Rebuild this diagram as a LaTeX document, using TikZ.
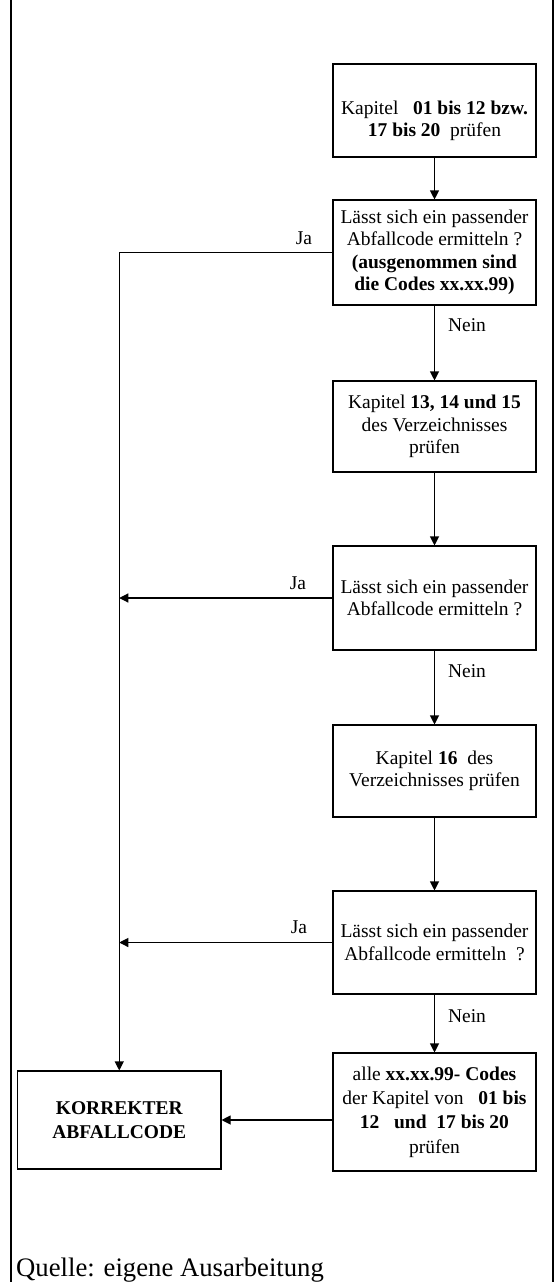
\documentclass[tikz,border=0pt]{standalone}
\usepackage{fontspec}
\setmainfont{Liberation Serif}
\usetikzlibrary{arrows.meta}
\tikzset{
  x=1pt, y=-1pt,
  box/.style={draw, line width=1.1pt, minimum width=203pt, inner sep=0pt, align=center,
    font=\fontsize{19.5}{22.4}\selectfont},
  txt/.style={inner sep=0pt, align=center, font=\fontsize{19.5}{22.4}\selectfont},
  lbl/.style={inner sep=0pt, font=\fontsize{19.5}{22.4}\selectfont},
  arr/.style={line width=1.1pt, -{Triangle[length=9pt,width=9pt]}},
  frame/.style={line width=2.4pt}
}
\begin{document}
\begin{tikzpicture}
\useasboundingbox (0,0) rectangle (557,1282);
% frame
\coordinate (fl1) at (11,0); \coordinate (fl2) at (11,1282);
\coordinate (fr1) at (553,0); \coordinate (fr2) at (553,1282);
\draw[frame] (fl1) -- (fl2);
\draw[frame] (fr1) -- (fr2);

% boxes
\node[box, minimum height=93pt] (b1) at (434.5,110.5) {};
\node[txt] (t1) at (434.5,121) {Kapitel\ \ \ \textbf{01 bis 12 bzw.}\\\textbf{17 bis 20}\ \ prüfen};
\node[box, minimum height=105pt] (b2) at (434.5,252.5) {Lässt sich ein passender\\Abfallcode ermitteln ?\\\textbf{(ausgenommen sind}\\\textbf{die Codes xx.xx.99)}};
\node[box, minimum height=91pt] (b3) at (434.5,426.5) {Kapitel \textbf{13, 14 und 15}\\des Verzeichnisses\\prüfen};
\node[box, minimum height=104pt] (b4) at (434.5,598) {Lässt sich ein passender\\Abfallcode ermitteln ?};
\node[box, minimum height=92pt] (b5) at (434.5,771) {Kapitel \textbf{16}\ \ des\\Verzeichnisses prüfen};
\node[box, minimum height=103pt] (b6) at (434.5,942.5) {Lässt sich ein passender\\Abfallcode ermitteln\ \ ?};
\node[box, minimum height=118pt, font=\fontsize{19.5}{24.3}\selectfont] (b7) at (434.5,1112) {alle \textbf{xx.xx.99- Codes}\\der Kapitel von\ \ \ \textbf{01 bis}\\\textbf{12\ \ \ und\ \ 17 bis 20}\\prüfen};
\node[box, minimum height=98pt, minimum width=203.5pt, font=\fontsize{19.5}{24}\selectfont\bfseries] (k) at (119.25,1120) {KORREKTER\\ABFALLCODE};

% vertical flow
\draw[arr] (b1.south) -- (b2.north);
\draw[arr] (b2.south) -- (b3.north);
\draw[arr] (b3.south) -- (b4.north);
\draw[arr] (b4.south) -- (b5.north);
\draw[arr] (b5.south) -- (b6.north);
\draw[arr] (b6.south) -- (b7.north);

% Ja branches
\coordinate (c1) at (119.25,252.5);
\draw[arr] (b2.west) -- (c1) -- (k.north);
\coordinate (c2) at (119.25,598);
\draw[arr] (b4.west) -- (c2);
\coordinate (c3) at (119.25,942.5);
\draw[arr] (b6.west) -- (c3);
\draw[arr] (b7.west |- k.east) -- (k.east);

% labels
\node[lbl] (ja1) at (304,238) {Ja};
\node[lbl] (ja2) at (298,583) {Ja};
\node[lbl] (ja3) at (299,927) {Ja};
\node[lbl] (n1) at (467,325) {Nein};
\node[lbl] (n2) at (467,671) {Nein};
\node[lbl] (n3) at (467,1016) {Nein};

% source
\node[inner sep=0pt, anchor=base west, font=\fontsize{26.7}{30}\selectfont] (q) at (16,1276) {Quelle: eigene Ausarbeitung};
\end{tikzpicture}
\end{document}
